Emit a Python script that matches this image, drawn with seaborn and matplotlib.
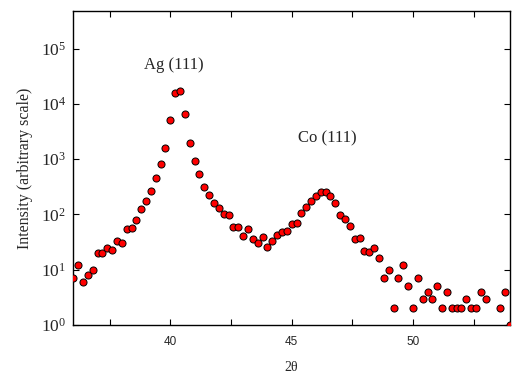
import numpy as np
import pandas as pd
import matplotlib
matplotlib.use("Agg")
import matplotlib.pyplot as plt
import seaborn as sns
from matplotlib.ticker import MultipleLocator, LogLocator, LogFormatterSciNotation, NullLocator

two_theta = [36.0, 36.2, 36.4, 36.6, 36.8, 37.0, 37.2, 37.4, 37.6, 37.8,
             38.0, 38.2, 38.4, 38.6, 38.8, 39.0, 39.2, 39.4, 39.6, 39.8,
             40.0, 40.2, 40.4, 40.6, 40.8, 41.0, 41.2, 41.4, 41.6, 41.8,
             42.0, 42.2, 42.4, 42.6, 42.8, 43.0, 43.2, 43.4, 43.6, 43.8,
             44.0, 44.2, 44.4, 44.6, 44.8, 45.0, 45.2, 45.4, 45.6, 45.8,
             46.0, 46.2, 46.4, 46.6, 46.8, 47.0, 47.2, 47.4, 47.6, 47.8,
             48.0, 48.2, 48.4, 48.6, 48.8, 49.0, 49.2, 49.4, 49.6, 49.8,
             50.0, 50.2, 50.4, 50.6, 50.8, 51.0, 51.2, 51.4, 51.6, 51.8,
             52.0, 52.2, 52.4, 52.6, 52.8, 53.0, 53.6, 53.8, 54.0]
intensity = [7, 12, 6, 8, 10, 20, 20, 25, 23, 33,
             31, 55, 58, 78, 126, 177, 260, 460, 830, 1620,
             5150, 15500, 17000, 6450, 2000, 930, 530, 318, 227, 158,
             133, 103, 97, 60, 60, 40, 54, 36, 31, 39,
             26, 33, 42, 49, 50, 67, 71, 105, 134, 175,
             212, 257, 257, 215, 158, 96, 84, 63, 36, 37,
             22, 21, 25, 16, 7, 10, 2, 7, 12, 5,
             2, 7, 3, 4, 3, 5, 2, 4, 2, 2,
             2, 3, 2, 2, 4, 3, 2, 4, 1]

peak_labels = ["Ag (111)", "Co (111)"]
peak_x = [40.15, 46.47]
peak_y = [10**4.70, 10**3.38]

df = pd.DataFrame({"two_theta": two_theta, "intensity": intensity})

sns.set_style("ticks")
plt.rcParams["font.family"] = ["Liberation Serif", "DejaVu Serif"]
plt.rcParams["mathtext.fontset"] = "stix"

fig = plt.figure(figsize=(5.12, 3.74), dpi=100)
ax = fig.add_axes([73.3 / 512, 1 - 325 / 374, (510 - 73.3) / 512, (325 - 11) / 374])

sns.scatterplot(data=df, x="two_theta", y="intensity", ax=ax,
                color="#ff0000", edgecolor="black", linewidth=0.7, s=26,
                legend=False, zorder=3)

ax.set_yscale("log")
ax.set_xlim(36, 54)
ax.set_ylim(1, 10**5.68)

ax.xaxis.set_major_locator(MultipleLocator(5))
ax.xaxis.set_minor_locator(MultipleLocator(2.5))
ax.yaxis.set_major_locator(LogLocator(base=10, numticks=10))
ax.yaxis.set_minor_locator(NullLocator())
ax.yaxis.set_major_formatter(LogFormatterSciNotation())

ax.tick_params(axis="both", which="both", direction="in", top=True, right=True,
               length=4, width=0.8, color="black")
ax.tick_params(axis="y", labelsize=12.5, pad=5)
ax.tick_params(axis="x", labelsize=8.5, pad=8)
for lbl in ax.get_xticklabels():
    lbl.set_family("Liberation Sans")

for sp in ax.spines.values():
    sp.set_visible(True)
    sp.set_linewidth(1.0)
    sp.set_color("black")

ax.set_xlabel("2θ", fontsize=10, labelpad=9)
ax.set_ylabel("Intensity (arbitrary scale)", fontsize=11.5, labelpad=6)

for t, x, y in zip(peak_labels, peak_x, peak_y):
    ax.text(x, y, t, ha="center", va="center", fontsize=12)

fig.savefig("out.png", dpi=100)
